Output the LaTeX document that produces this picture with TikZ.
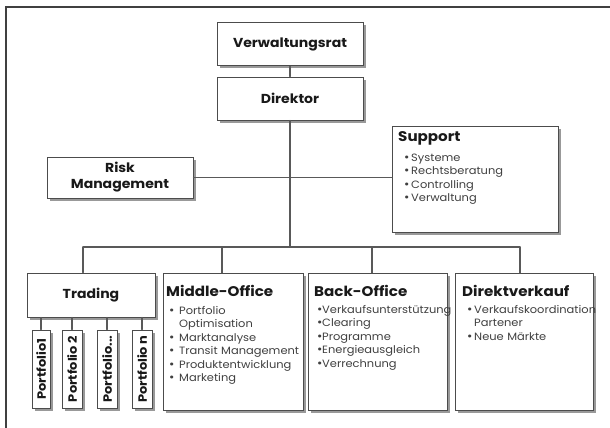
\documentclass[tikz,border=0pt]{standalone}
\usepackage{fontspec}
\setmainfont{Poppins}[FakeStretch=1.08]
\newfontfamily\listfont{Poppins}[FakeStretch=1.08]
\usetikzlibrary{shadows}

\newcommand{\bull}[1][8pt]{\makebox[#1][l]{\raisebox{-0.4pt}{\large\textbullet}}}

\begin{document}
\begin{tikzpicture}[x=1pt, y=-1pt, line cap=round,
	box/.style={draw=black!70, line width=1pt, fill=white,
		drop shadow={shadow xshift=2.5pt, shadow yshift=-2.5pt, fill=black!40, opacity=1}},
	link/.style={draw=black!65, line width=1.3pt},
	head/.style={font=\fontsize{13}{16}\selectfont\bfseries, text=black!90},
	title/.style={font=\fontsize{14}{16}\selectfont\bfseries, text=black!90, inner sep=0pt, anchor=base west},
	items/.style={font=\listfont\fontsize{10.6}{13.5}\selectfont, text=black!75, text width=170pt,
		inner sep=0pt, align=left, anchor=base west},
	folio/.style={box, rotate=90, minimum width=78pt, minimum height=20pt, inner sep=0pt,
		font=\fontsize{12}{14}\selectfont\bfseries, text=black!90}]

\useasboundingbox (0,0) rectangle (610,428);

% Frame
\draw[black!75, line width=1.3pt] (610,7) -- (6,7) -- (6,428);

%Coordinates
\coordinate (bus) at (290,247);
\coordinate (busL) at (83,247);
\coordinate (busR) at (520,247);
\coordinate (dropM) at (222,247);
\coordinate (dropB) at (372,247);

% Boxes
\node[box, head, minimum width=146pt, minimum height=43pt] (vrat) at (290,44.5) {Verwaltungsrat};
\node[box, head, minimum width=146pt, minimum height=43pt] (dir) at (290,98.5) {Direktor};
\node[box, head, minimum width=146pt, minimum height=41pt, align=center] (risk) at (120,177.5) {Risk\\Management};
\node[box, minimum width=166pt, minimum height=106pt, anchor=north west] (support) at (392,126) {};
\node[box, head, minimum width=128pt, minimum height=44pt] (trading) at (91,295) {Trading};
\node[box, minimum width=140pt, minimum height=137pt, anchor=north west] (mid) at (163,273) {};
\node[box, minimum width=139pt, minimum height=137pt, anchor=north west] (back) at (308,273) {};
\node[box, minimum width=138pt, minimum height=137pt, anchor=north west] (direkt) at (455,273) {};

% Portfolios
\node[folio, minimum height=18pt] (p1) at (41,369) {Portfolio1};
\node[folio] (p2) at (72,369) {Portfolio 2};
\node[folio] (p3) at (107,369) {Portfolio...};
\node[folio] (pn) at (142,369) {Portfolio n};

% Texts
\node[title] (supportT) at (398,141) {Support};
\node[items] (supportL) at (404,161) {\bull[7pt]Systeme\\\bull[7pt]Rechtsberatung\\\bull[7pt]Controlling\\\bull[7pt]Verwaltung};

\node[title] (midT) at (166,296) {Middle-Office};
\node[items] (midL) at (169,314) {\bull[10pt]Portfolio\\\hspace*{10pt}Optimisation\\\bull[10pt]Marktanalyse\\\bull[10pt]Transit Management\\\bull[10pt]Produktentwicklung\\\bull[10pt]Marketing};

\node[title] (backT) at (314,296) {Back-Office};
\node[items] (backL) at (317,313) {\bull[5pt]Verkaufsunterstützung\\\bull[5pt]Clearing\\\bull[5pt]Programme\\\bull[5pt]Energieausgleich\\\bull[5pt]Verrechnung};

\node[title] (direktT) at (462,296) {Direktverkauf};
\node[items] (direktL) at (467,313) {\bull[7pt]Verkaufskoordination\\\hspace*{7pt}Partener\\\bull[7pt]Neue Märkte};

% Lines
\draw[link] (vrat) -- (dir);
\draw[link] (dir) -- (bus);
\draw[link] (risk.east) -- (risk.east -| support.west);
\draw[link] (busL) -- (busR);
\draw[link] (busL) -- (busL |- trading.north);
\draw[link] (dropM) -- (dropM |- mid.north);
\draw[link] (dropB) -- (dropB |- back.north);
\draw[link] (busR) -- (busR |- direkt.north);
\draw[link] (trading.south -| p1) -- (p1);
\draw[link] (trading.south -| p2) -- (p2);
\draw[link] (trading.south -| p3) -- (p3);
\draw[link] (trading.south -| pn) -- (pn);

\end{tikzpicture}
\end{document}
